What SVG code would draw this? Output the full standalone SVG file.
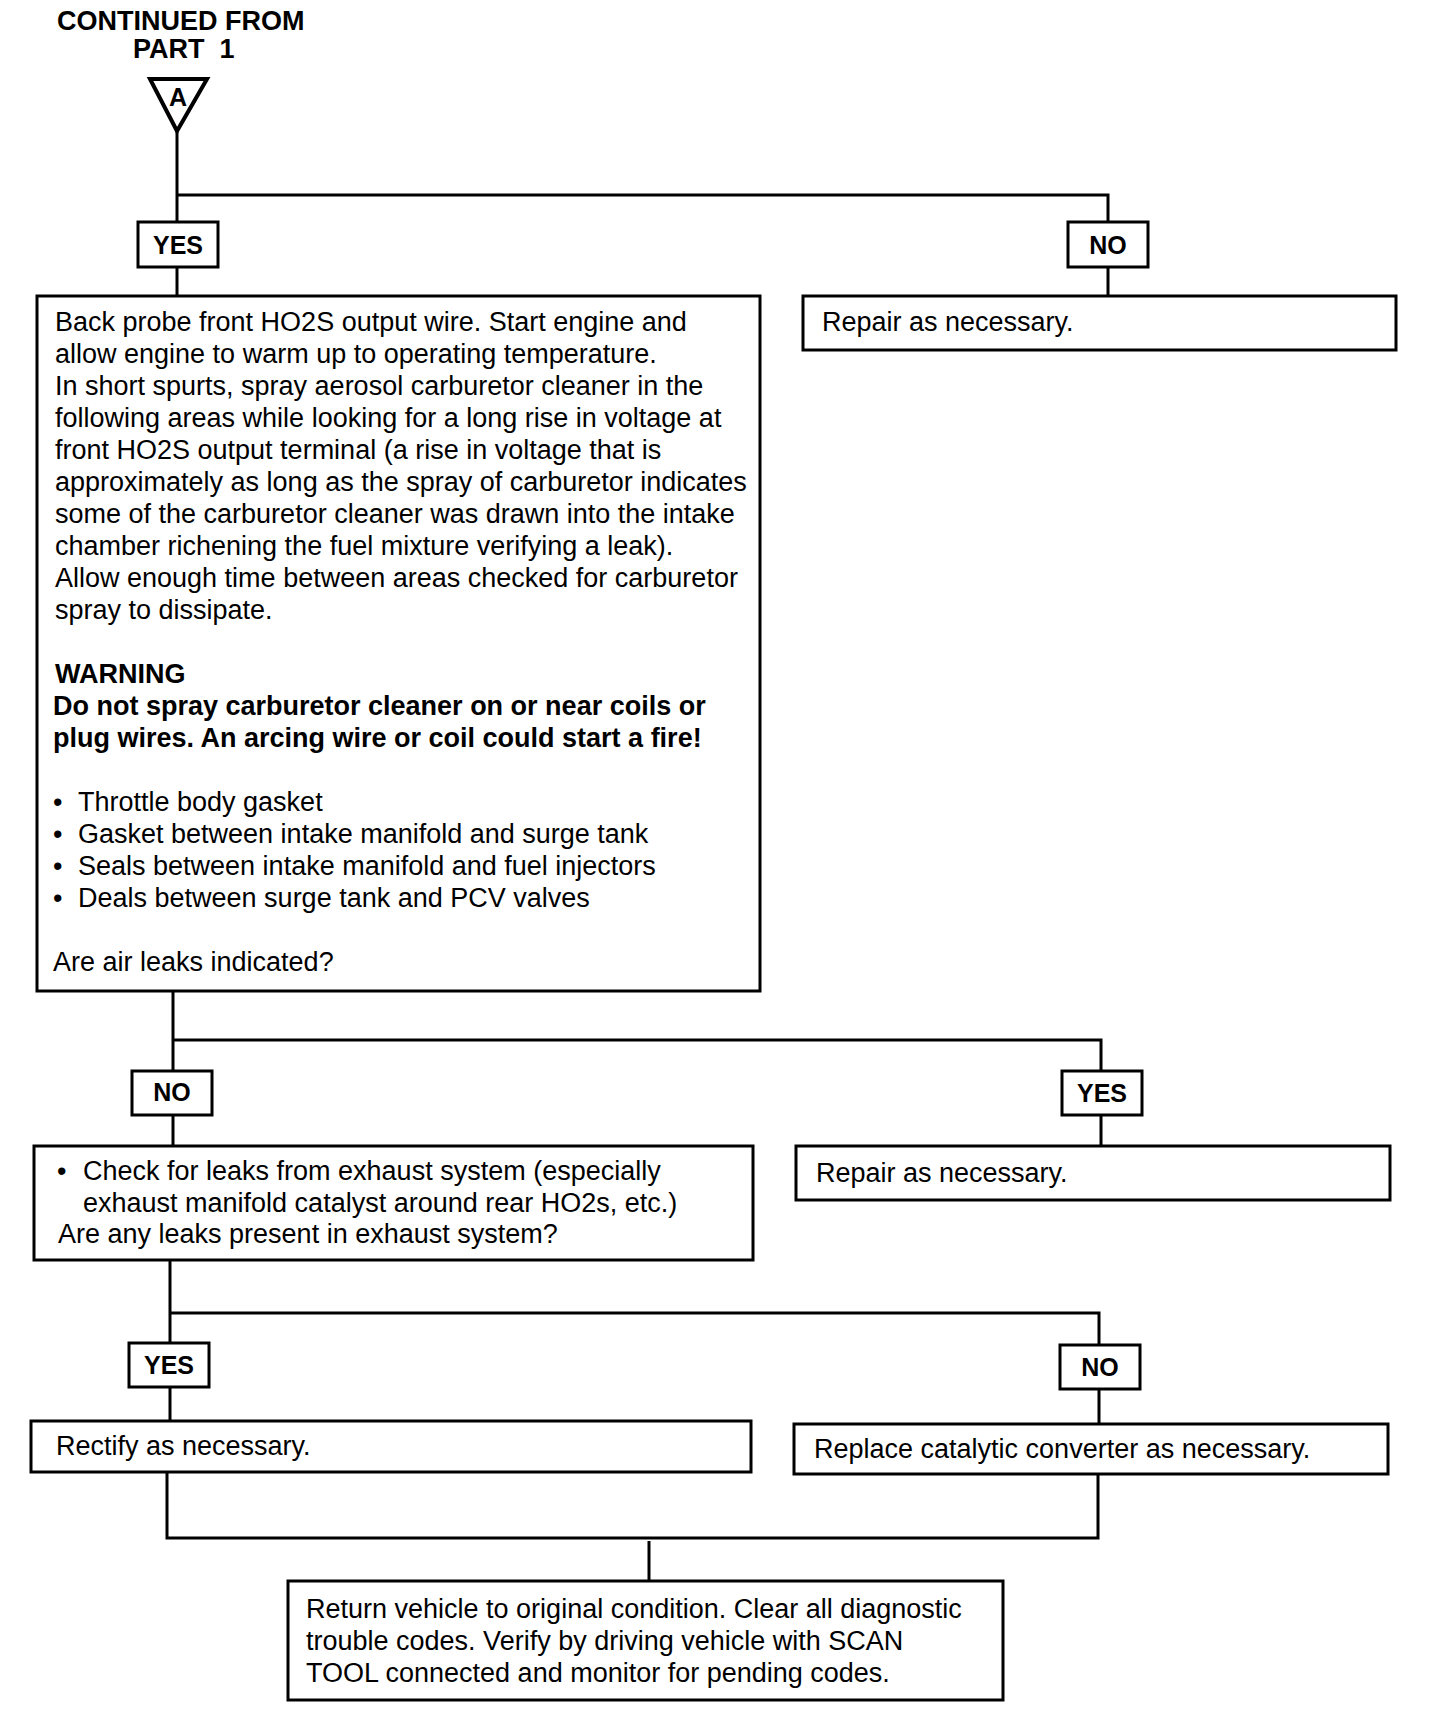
<svg xmlns="http://www.w3.org/2000/svg" width="1440" height="1714" viewBox="0 0 1440 1714">
<style>
.bg{fill:#fff}
.box{fill:#fff;stroke:#000;stroke-width:3}
.conn{fill:none;stroke:#000;stroke-width:3}
.t{font-family:"Liberation Sans",Arial,sans-serif;font-size:27px;fill:#000}
.b{font-family:"Liberation Sans",Arial,sans-serif;font-size:27px;font-weight:bold;fill:#000}
.lbl{font-family:"Liberation Sans",Arial,sans-serif;font-size:25px;font-weight:bold;fill:#000;text-anchor:middle}
</style>
<rect class="bg" x="0" y="0" width="1440" height="1714"/>

<g id="connectors">
  <path class="conn" d="M177,131 V296"/>
  <path class="conn" d="M177,195 H1108 V296"/>
  <path class="conn" d="M173,991 V1146"/>
  <path class="conn" d="M173,1040 H1101 V1146"/>
  <path class="conn" d="M170,1260 V1421"/>
  <path class="conn" d="M170,1313 H1099 V1424"/>
  <path class="conn" d="M167,1472 V1538 H1098 V1474"/>
  <path class="conn" d="M649,1541 V1581"/>
</g>

<g id="title">
  <text class="b" x="57" y="30">CONTINUED FROM</text>
  <text class="b" x="133" y="58" xml:space="preserve">PART  1</text>
</g>

<g id="offpage-A">
  <polygon points="150,79 207,79 177,131" fill="#fff" stroke="#000" stroke-width="4" stroke-linejoin="miter"/>
  <text class="lbl" x="178" y="106" style="font-size:25px">A</text>
</g>

<g id="yes1">
  <rect class="box" x="138" y="222" width="80" height="45"/>
  <text class="lbl" x="178" y="254">YES</text>
</g>
<g id="no1">
  <rect class="box" x="1068" y="222" width="80" height="45"/>
  <text class="lbl" x="1108" y="254">NO</text>
</g>

<g id="repair1">
  <rect class="box" x="803" y="296" width="593" height="54"/>
  <text class="t" x="822" y="331">Repair as necessary.</text>
</g>

<g id="main">
  <rect class="box" x="37" y="296" width="723" height="695"/>
  <text class="t" x="55" y="331">Back probe front HO2S output wire. Start engine and</text>
  <text class="t" x="55" y="363">allow engine to warm up to operating temperature.</text>
  <text class="t" x="55" y="395">In short spurts, spray aerosol carburetor cleaner in the</text>
  <text class="t" x="55" y="427">following areas while looking for a long rise in voltage at</text>
  <text class="t" x="55" y="459">front HO2S output terminal (a rise in voltage that is</text>
  <text class="t" x="55" y="491">approximately as long as the spray of carburetor indicates</text>
  <text class="t" x="55" y="523">some of the carburetor cleaner was drawn into the intake</text>
  <text class="t" x="55" y="555">chamber richening the fuel mixture verifying a leak).</text>
  <text class="t" x="55" y="587">Allow enough time between areas checked for carburetor</text>
  <text class="t" x="55" y="619">spray to dissipate.</text>
  <text class="b" x="55" y="683">WARNING</text>
  <text class="b" x="53" y="715">Do not spray carburetor cleaner on or near coils or</text>
  <text class="b" x="53" y="747">plug wires. An arcing wire or coil could start a fire!</text>
  <text class="t" x="53" y="811">•</text><text class="t" x="78" y="811">Throttle body gasket</text>
  <text class="t" x="53" y="843">•</text><text class="t" x="78" y="843">Gasket between intake manifold and surge tank</text>
  <text class="t" x="53" y="875">•</text><text class="t" x="78" y="875">Seals between intake manifold and fuel injectors</text>
  <text class="t" x="53" y="907">•</text><text class="t" x="78" y="907">Deals between surge tank and PCV valves</text>
  <text class="t" x="53" y="971">Are air leaks indicated?</text>
</g>

<g id="no2">
  <rect class="box" x="132" y="1071" width="80" height="44"/>
  <text class="lbl" x="172" y="1101">NO</text>
</g>
<g id="yes2">
  <rect class="box" x="1062" y="1071" width="80" height="44"/>
  <text class="lbl" x="1102" y="1102">YES</text>
</g>

<g id="exhaust">
  <rect class="box" x="34" y="1146" width="719" height="114"/>
  <text class="t" x="57" y="1180">•</text><text class="t" x="83" y="1180">Check for leaks from exhaust system (especially</text>
  <text class="t" x="83" y="1212">exhaust manifold catalyst around rear HO2s, etc.)</text>
  <text class="t" x="58" y="1243">Are any leaks present in exhaust system?</text>
</g>

<g id="repair2">
  <rect class="box" x="796" y="1146" width="594" height="54"/>
  <text class="t" x="816" y="1182">Repair as necessary.</text>
</g>

<g id="yes3">
  <rect class="box" x="129" y="1343" width="80" height="44"/>
  <text class="lbl" x="169" y="1374">YES</text>
</g>
<g id="no3">
  <rect class="box" x="1060" y="1345" width="80" height="44"/>
  <text class="lbl" x="1100" y="1376">NO</text>
</g>

<g id="rectify">
  <rect class="box" x="31" y="1421" width="720" height="51"/>
  <text class="t" x="56" y="1455">Rectify as necessary.</text>
</g>

<g id="replace">
  <rect class="box" x="794" y="1424" width="594" height="50"/>
  <text class="t" x="814" y="1458">Replace catalytic converter as necessary.</text>
</g>

<g id="final">
  <rect class="box" x="288" y="1581" width="715" height="119"/>
  <text class="t" x="306" y="1618">Return vehicle to original condition. Clear all diagnostic</text>
  <text class="t" x="306" y="1650">trouble codes. Verify by driving vehicle with SCAN</text>
  <text class="t" x="306" y="1682">TOOL connected and monitor for pending codes.</text>
</g>
</svg>
